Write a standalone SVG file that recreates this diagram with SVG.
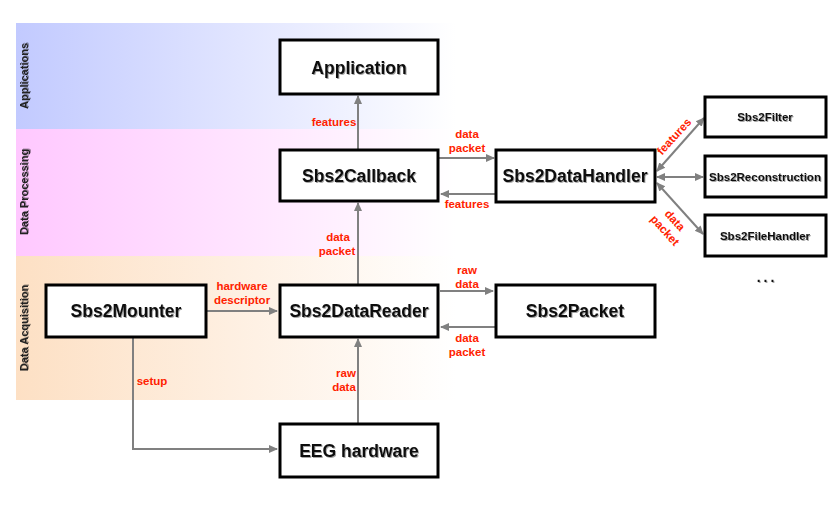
<svg xmlns="http://www.w3.org/2000/svg" width="830" height="519" viewBox="0 0 830 519">
<style>
.node rect{fill:#fff;stroke:#000;stroke-width:3}
.nt{font-family:"Liberation Sans",Arial,sans-serif;font-weight:bold;font-size:17.5px;fill:#111;text-anchor:middle;filter:url(#sh)}
.st{font-size:11.5px}
.lb{font-family:"Liberation Sans",Arial,sans-serif;font-weight:bold;font-size:11.5px;fill:#ff2200;text-anchor:middle}
.bt{font-family:"Liberation Sans",Arial,sans-serif;font-weight:bold;font-size:11px;fill:#222;text-anchor:middle;filter:url(#sh)}
.cn{stroke:#808080;stroke-width:2;fill:none}
.ar{marker-end:url(#ah)}
.dbl{marker-start:url(#ahs);marker-end:url(#ah)}
</style>
<defs>
<linearGradient id="gA" x1="0" x2="1" y1="0" y2="0"><stop offset="0" stop-color="#c2caff"/><stop offset="1" stop-color="#fff"/></linearGradient>
<linearGradient id="gP" x1="0" x2="1" y1="0" y2="0"><stop offset="0" stop-color="#ffc8ff"/><stop offset="1" stop-color="#fff"/></linearGradient>
<linearGradient id="gD" x1="0" x2="1" y1="0" y2="0"><stop offset="0" stop-color="#fde0c4"/><stop offset="1" stop-color="#fff"/></linearGradient>
<marker id="ah" markerWidth="10" markerHeight="10" refX="8" refY="5" orient="auto" markerUnits="userSpaceOnUse"><path d="M0,1 L9,5 L0,9 Z" fill="#808080"/></marker>
<marker id="ahs" markerWidth="10" markerHeight="10" refX="2" refY="5" orient="auto" markerUnits="userSpaceOnUse"><path d="M10,1 L1,5 L10,9 Z" fill="#808080"/></marker>
<filter id="sh" x="-10%" y="-30%" width="130%" height="160%"><feDropShadow dx="1" dy="1" stdDeviation="0.6" flood-color="#000" flood-opacity="0.35"/></filter>
</defs>
<g id="bands">
<rect x="16" y="23" width="440" height="106" fill="url(#gA)"/>
<rect x="16" y="129" width="440" height="127" fill="url(#gP)"/>
<rect x="16" y="256" width="440" height="144" fill="url(#gD)"/>
<text class="bt" transform="translate(28,76) rotate(-90)">Applications</text>
<text class="bt" transform="translate(28,192) rotate(-90)">Data Processing</text>
<text class="bt" transform="translate(28,328) rotate(-90)">Data Acquisition</text>
</g>
<g id="connectors">
<line class="cn ar" x1="358" y1="150" x2="358" y2="96"/>
<line class="cn ar" x1="358" y1="284" x2="358" y2="203"/>
<line class="cn ar" x1="358" y1="423" x2="358" y2="339"/>
<line class="cn ar" x1="439" y1="158" x2="494" y2="158"/>
<line class="cn ar" x1="496" y1="194" x2="441" y2="194"/>
<line class="cn ar" x1="440" y1="291" x2="493" y2="291"/>
<line class="cn ar" x1="495" y1="327" x2="441" y2="327"/>
<line class="cn ar" x1="207" y1="311" x2="277" y2="311"/>
<polyline class="cn ar" points="133,338 133,449 277,449"/>
<line class="cn dbl" x1="657" y1="171" x2="704" y2="118"/>
<line class="cn dbl" x1="657" y1="177" x2="703" y2="177"/>
<line class="cn dbl" x1="657" y1="183" x2="703" y2="234"/>
<text class="lb" x="334" y="126">features</text>
<text class="lb" x="338" y="241">data</text>
<text class="lb" x="337" y="255">packet</text>
<text class="lb" x="346" y="377">raw</text>
<text class="lb" x="344" y="391">data</text>
<text class="lb" x="467" y="138">data</text>
<text class="lb" x="467" y="152">packet</text>
<text class="lb" x="467" y="208">features</text>
<text class="lb" x="467" y="274">raw</text>
<text class="lb" x="467" y="288">data</text>
<text class="lb" x="467" y="342">data</text>
<text class="lb" x="467" y="356">packet</text>
<text class="lb" x="242" y="290">hardware</text>
<text class="lb" x="242" y="304">descriptor</text>
<text class="lb" x="152" y="385">setup</text>
<text class="lb" transform="translate(677,139) rotate(-48)">features</text>
<text class="lb" transform="translate(672,223) rotate(48)">data</text>
<text class="lb" transform="translate(662,233) rotate(48)">packet</text>
</g>
<g id="Application" class="node"><rect x="280" y="40" width="158" height="54"/><text class="nt" x="359" y="74">Application</text></g>
<g id="Sbs2Callback" class="node"><rect x="280" y="150" width="158" height="51"/><text class="nt" x="359" y="182">Sbs2Callback</text></g>
<g id="Sbs2DataHandler" class="node"><rect x="496" y="150" width="159" height="52"/><text class="nt" x="575" y="182">Sbs2DataHandler</text></g>
<g id="Sbs2Filter" class="node"><rect x="705" y="97" width="121" height="40"/><text class="nt st" x="765" y="121">Sbs2Filter</text></g>
<g id="Sbs2Reconstruction" class="node"><rect x="705" y="156" width="121" height="41"/><text class="nt st" x="765" y="181">Sbs2Reconstruction</text></g>
<g id="Sbs2FileHandler" class="node"><rect x="705" y="215" width="121" height="41"/><text class="nt st" x="765" y="240">Sbs2FileHandler</text></g>
<g id="more"><text class="nt" x="767" y="282" style="font-size:14px;letter-spacing:3px">...</text></g>
<g id="Sbs2DataReader" class="node"><rect x="280" y="285" width="158" height="52"/><text class="nt" x="359" y="317">Sbs2DataReader</text></g>
<g id="Sbs2Packet" class="node"><rect x="496" y="285" width="159" height="52"/><text class="nt" x="575" y="317">Sbs2Packet</text></g>
<g id="Sbs2Mounter" class="node"><rect x="46" y="285" width="160" height="52"/><text class="nt" x="126" y="317">Sbs2Mounter</text></g>
<g id="EEG_hardware" class="node"><rect x="280" y="424" width="158" height="53"/><text class="nt" x="359" y="457">EEG hardware</text></g>
</svg>
